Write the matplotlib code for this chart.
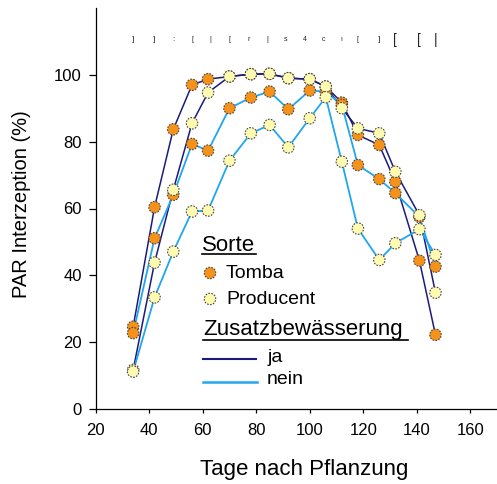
import matplotlib

matplotlib.use("Agg")
import matplotlib.pyplot as plt
from matplotlib.lines import Line2D

plt.rcParams["font.family"] = ["Liberation Sans", "DejaVu Sans"]

# Tage nach Pflanzung (sampling dates)
days = [34, 42, 49, 56, 62, 70, 78, 85, 92, 100, 106, 112, 118, 126, 132, 141, 147]

# PAR interception (%)
tomba_ja = [24.6, 60.4, 83.7, 97.0, 98.7, 99.5, 100.2, 100.3, 99.0, 98.7, 96.5, 91.7, 82.0, 79.0, 68.0, 44.4, 22.2]
tomba_nein = [22.7, 51.1, 64.1, 79.3, 77.3, 90.0, 93.2, 95.0, 89.7, 95.3, 95.0, 91.0, 73.0, 68.8, 64.6, 57.5, 42.6]
prod_ja = [11.7, 43.8, 65.6, 85.5, 94.7, 99.5, 100.2, 100.3, 99.0, 98.7, 96.5, 90.0, 84.0, 82.5, 71.0, 58.0, 34.8]
prod_nein = [11.2, 33.4, 47.1, 59.1, 59.4, 74.3, 82.5, 85.0, 78.3, 87.0, 93.3, 74.0, 54.0, 44.6, 49.6, 53.8, 46.1]

# garbled significance letters along the top
sig_days = [34, 42, 49, 56, 63, 70, 77, 84, 91, 98, 105, 112, 118, 126, 132, 141, 147]
sig_labels = ["]", "]", ":", "[", "|", "[", "r", "|", "s", "4", "c", "ı", "[", "]", "[", "[", "|"]
sig_sizes = [6, 6, 6, 5, 5, 5, 5, 5, 5, 5, 5, 5, 5, 6, 10, 10, 10]

NAVY = "#1b1b7c"
LIGHT = "#1fa6ef"
ORANGE = "#f5921a"
YELLOW = "#fffbb0"

W, H = 497, 484
fig = plt.figure(figsize=(W / 100, H / 100), dpi=100)
ax = fig.add_axes([95.7 / W, 1 - 409 / H, (W - 95.7) / W, (409 - 8) / H])


def fx(px):
    return px / W


def fy(py):
    return 1 - py / H


ax.plot(days, tomba_ja, color=NAVY, lw=1.1, zorder=2)
ax.plot(days, prod_ja, color=NAVY, lw=1.1, zorder=2)
ax.plot(days, tomba_nein, color=LIGHT, lw=1.3, zorder=2)
ax.plot(days, prod_nein, color=LIGHT, lw=1.3, zorder=2)

mk = dict(s=68, edgecolors="#444444", linewidths=0.8, linestyle=(0, (1.5, 1.2)), zorder=3)
ax.scatter(days, tomba_ja, color=ORANGE, **mk)
ax.scatter(days, tomba_nein, color=ORANGE, **mk)
ax.scatter(days, prod_ja, color=YELLOW, **mk)
ax.scatter(days, prod_nein, color=YELLOW, **mk)

for d, lab, fs in zip(sig_days, sig_labels, sig_sizes):
    ax.text(d, 110.5, lab, fontsize=fs, ha="center", va="center", color="#222222")

ax.set_xlim(20, 170)
ax.set_ylim(0, 120)
ax.set_xticks(range(20, 161, 20))
ax.set_yticks(range(0, 101, 20))
ax.tick_params(axis="x", direction="out", length=3, width=0.9, pad=7, labelsize=12)
ax.tick_params(axis="y", direction="out", length=5, width=0.9, pad=5, labelsize=12)
for side in ("top", "right"):
    ax.spines[side].set_visible(False)
for side in ("left", "bottom"):
    ax.spines[side].set_linewidth(0.9)

fig.text(fx(304.5), fy(470), "Tage nach Pflanzung", fontsize=16, ha="center", va="center")
fig.text(fx(22), fy(204), "PAR Interzeption (%)", fontsize=14.5, rotation=90, ha="center", va="center")

# legend drawn by hand
fig.text(fx(202), fy(251), "Sorte", fontsize=16, ha="left", va="baseline")
fig.add_artist(Line2D([fx(202), fx(256)], [fy(254), fy(254)], color="black", lw=1.2))
ax.scatter([fx(210)], [fy(273)], color=ORANGE, transform=fig.transFigure, clip_on=False, **mk)
ax.scatter([fx(210)], [fy(299)], color=YELLOW, transform=fig.transFigure, clip_on=False, **mk)
fig.text(fx(226), fy(273), "Tomba", fontsize=14, ha="left", va="center")
fig.text(fx(226), fy(299), "Producent", fontsize=14, ha="left", va="center")
fig.text(fx(203), fy(335), "Zusatzbewässerung", fontsize=16, ha="left", va="baseline")
fig.add_artist(Line2D([fx(203), fx(408)], [fy(339.5), fy(339.5)], color="black", lw=1.2))
fig.add_artist(Line2D([fx(203), fx(256)], [fy(359), fy(359)], color=NAVY, lw=1.5))
fig.add_artist(Line2D([fx(203), fx(257)], [fy(382), fy(382)], color=LIGHT, lw=1.8))
fig.text(fx(268), fy(357), "ja", fontsize=14, ha="left", va="center")
fig.text(fx(267), fy(380), "nein", fontsize=14, ha="left", va="center")

fig.savefig("out.png", dpi=100)
